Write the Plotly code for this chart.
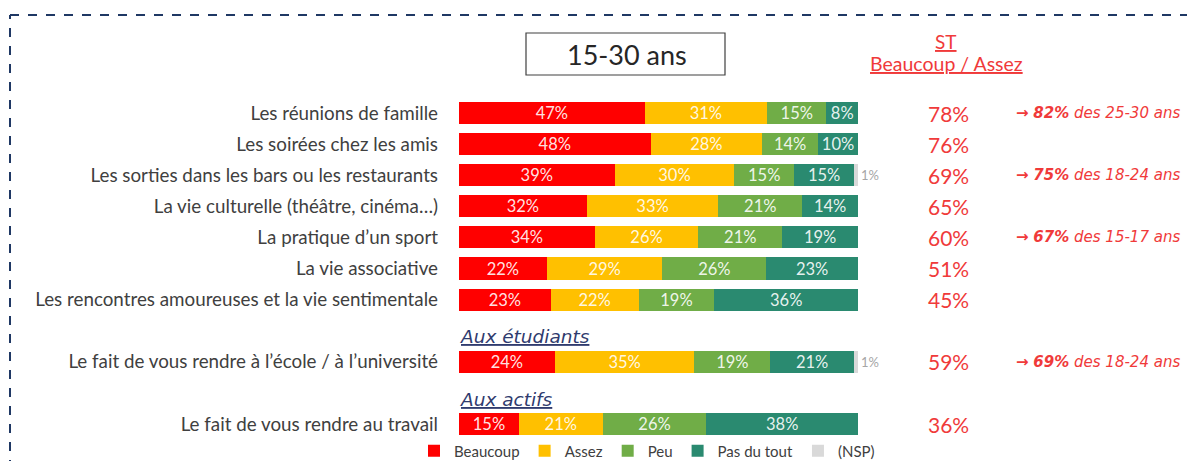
import plotly.graph_objects as go

categories = [
    "Les réunions de famille",
    "Les soirées chez les amis",
    "Les sorties dans les bars ou les restaurants",
    "La vie culturelle (théâtre, cinéma…)",
    "La pratique d’un sport",
    "La vie associative",
    "Les rencontres amoureuses et la vie sentimentale",
    "Le fait de vous rendre à l’école / à l’université",
    "Le fait de vous rendre au travail",
]
beaucoup = [47, 48, 39, 32, 34, 22, 23, 24, 15]
assez = [31, 28, 30, 33, 26, 29, 22, 35, 21]
peu = [15, 14, 15, 21, 21, 26, 19, 19, 26]
pas_du_tout = [8, 10, 15, 14, 19, 23, 36, 21, 38]
nsp = [0, 0, 1, 0, 0, 0, 0, 1, 0]
st_values = ["78%", "76%", "69%", "65%", "60%", "51%", "45%", "59%", "36%"]
notes = {0: ("82%", "des 25-30 ans"), 2: ("75%", "des 18-24 ans"),
         4: ("67%", "des 15-17 ans"), 7: ("69%", "des 18-24 ans")}
section_titles = {7: "Aux étudiants", 8: "Aux actifs"}

series = [
    ("Beaucoup", beaucoup, "#FF0000"),
    ("Assez", assez, "#FFC000"),
    ("Peu", peu, "#70AD47"),
    ("Pas du tout", pas_du_tout, "#2A8A70"),
    ("(NSP)", nsp, "#D9D9D9"),
]

W, H = 1195, 461
OX, OY = 8, 8  # page body margin offset
FONT = "Lato"
WIDE = "DejaVu Sans"
RED = "#F03A3A"


def px(x):
    return (x - OX) / W


def py(y):
    return 1 - (y - OY) / H


# slot positions: rows 0..6, then rows after section titles
pos = [0, 1, 2, 3, 4, 5, 6, 8, 10]
slot_px = 31.1
y_top = -(113 - OY) / slot_px
y_bot = 10 + (H + OY - 424) / slot_px

fig = go.Figure()
for name, vals, col in series:
    is_nsp = name == "(NSP)"
    txt = [(f"{v}%" if v > 0 else "") for v in vals]
    fig.add_trace(go.Bar(
        y=pos, x=vals, name=name, orientation="h",
        marker=dict(color=col, line=dict(width=0)),
        text=txt,
        textposition="outside" if is_nsp else "inside",
        insidetextanchor="middle",
        textangle=0,
        constraintext="none",
        textfont=dict(family=FONT, size=13 if is_nsp else 16.5,
                      color="#A6A6A6" if is_nsp else "rgba(255,255,255,0.9)"),
        cliponaxis=False,
        width=0.71,
        hoverinfo="skip",
    ))

ann = []
ann.append(dict(x=px(627), y=py(55), xref="paper", yref="paper", text="15-30 ans",
                xanchor="center", yanchor="middle",
                showarrow=False, font=dict(family=FONT, size=27, color="#262626")))
ann.append(dict(x=px(946), y=py(41), xref="paper", yref="paper", text="<u>ST</u>",
                xanchor="center", yanchor="middle",
                showarrow=False, font=dict(family=FONT, size=19, color=RED)))
ann.append(dict(x=px(946), y=py(64), xref="paper", yref="paper", text="<u>Beaucoup / Assez</u>",
                xanchor="center", yanchor="middle",
                showarrow=False, font=dict(family=FONT, size=19.5, color=RED)))
for i, p in enumerate(pos):
    ann.append(dict(x=px(948), y=p, xref="paper", yref="y", text=st_values[i],
                    xanchor="center", yanchor="middle",
                    showarrow=False, font=dict(family=FONT, size=21, color=RED)))
    if i in notes:
        v, t = notes[i]
        ann.append(dict(x=px(1014), y=p, xref="paper", yref="y", xanchor="left", yanchor="middle",
                        text=f"<b>→</b> <b><i>{v}</i></b><i> {t}</i>",
                        showarrow=False, font=dict(family=WIDE, size=15, color=RED)))
    if i in section_titles:
        ann.append(dict(x=px(458), y=p - 0.8, xref="paper", yref="y", xanchor="left", yanchor="middle",
                        text=f"<i><u>{section_titles[i]}</u></i>",
                        showarrow=False, font=dict(family=WIDE, size=18.5, color="#2F3B6E")))

shapes = [
    dict(type="rect", xref="paper", yref="paper", x0=px(526), x1=px(725),
         y0=py(75), y1=py(33), line=dict(color="#404040", width=1.2)),
    dict(type="line", xref="paper", yref="paper", x0=px(10), x1=1, y0=py(15), y1=py(15),
         line=dict(color="#1F3864", width=2, dash="dash")),
    dict(type="line", xref="paper", yref="paper", x0=px(10), x1=px(10), y0=0, y1=py(15),
         line=dict(color="#1F3864", width=2, dash="dash")),
]

fig.update_layout(
    width=W, height=H,
    margin=dict(l=0, r=0, t=0, b=0),
    paper_bgcolor="white", plot_bgcolor="white",
    barmode="stack", barnorm="percent",
    showlegend=True,
    legend=dict(orientation="h", x=px(414), y=py(451), xanchor="left", yanchor="middle",
                font=dict(family=FONT, size=15, color="#404040"),
                bgcolor="rgba(0,0,0,0)", itemwidth=30, traceorder="normal"),
    xaxis=dict(domain=[px(459), px(858)], range=[0, 100], visible=False, fixedrange=True),
    yaxis=dict(range=[y_bot, y_top], tickvals=pos, ticktext=categories,
               showgrid=False, zeroline=False, showline=False, ticks="",
               ticklabelstandoff=20,
               tickfont=dict(family=FONT, size=18.8, color="#404040"), fixedrange=True),
    annotations=ann, shapes=shapes,
    hovermode=False,
)

fig.write_html("out.html")
